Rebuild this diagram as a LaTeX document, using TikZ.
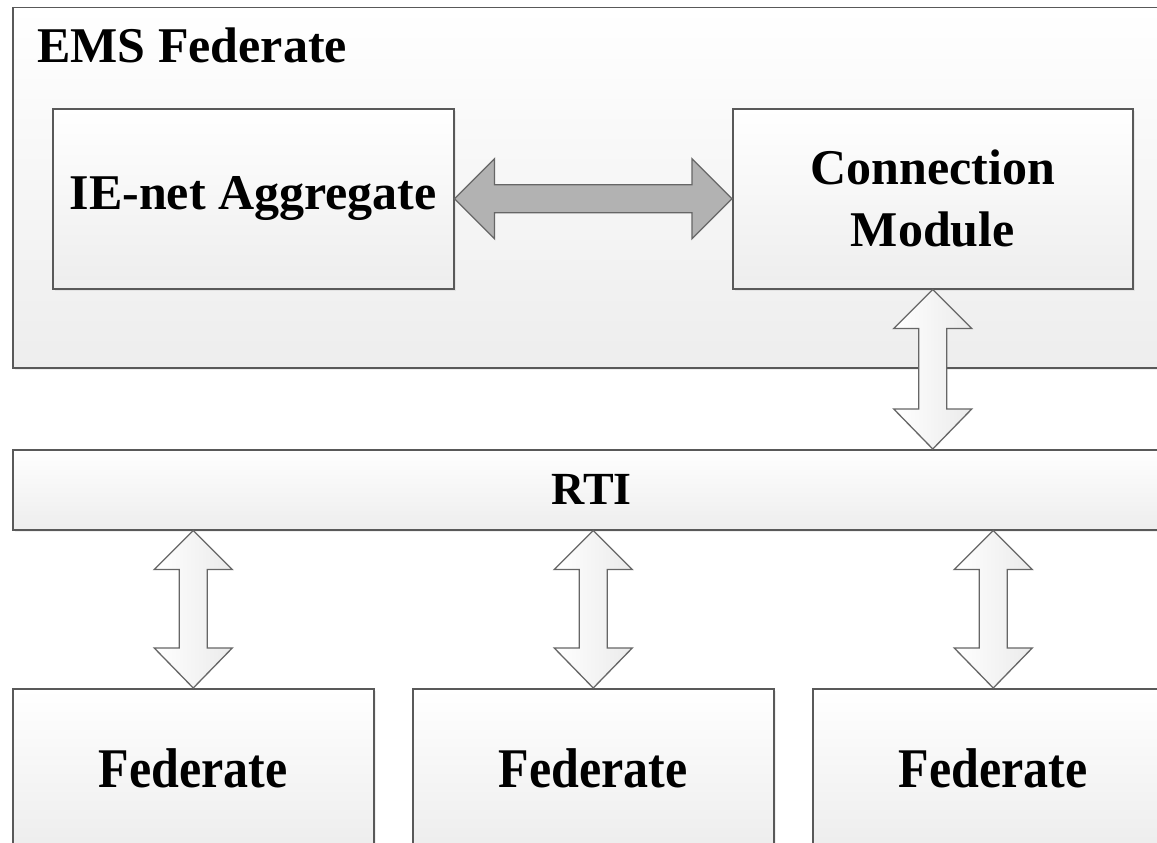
\documentclass[tikz,border=0pt]{standalone}
\usepackage{fontspec}
\setmainfont{Liberation Serif}
\usetikzlibrary{calc}
\usetikzlibrary{shadows}

\tikzset{
  box/.style={draw=black!65, line width=1.5pt, top color=white, bottom color=black!7,
    drop shadow={shadow xshift=2pt, shadow yshift=-2pt, opacity=0.12},
    inner sep=0pt, align=center, anchor=north west, font=\fontsize{50}{62}\selectfont\bfseries},
  boxlabel/.style={inner sep=0pt, font=\fontsize{50}{62}\selectfont\bfseries},
  hollowarrow/.style={draw=black!60, line width=1.3pt, line join=miter, left color=white, right color=black!8},
  greyarrow/.style={draw=black!60, line width=1.3pt, line join=miter, fill=black!30}
}

\begin{document}
\begin{tikzpicture}[x=1pt,y=-1pt]
\useasboundingbox (0,0) rectangle (1157,843);
\clip (0,0) rectangle (1157,843);
\fill[white] (0,0) rectangle (1157,843);

%EMS federate
\node[box, minimum width=1168pt, minimum height=360pt] (ems) at (12,7) {};
\node[boxlabel, anchor=base west] (emslabel) at (37,63) {EMS Federate};
\node[box, minimum width=401pt, minimum height=180pt] (ie) at (52,108) {IE-net Aggregate};
\node[box, minimum width=400pt, minimum height=180pt] (conn) at (732,108) {Connection\\Module};

%RTI
\node[box, minimum width=1158pt, minimum height=80pt, font=\fontsize{46}{56}\selectfont\bfseries] (rti) at (12,449) {RTI};

%federates
\node[box, minimum width=361pt, minimum height=160pt] (fed1) at (12,688) {\scalebox{1}[1.12]{Federate}};
\node[box, minimum width=361pt, minimum height=160pt] (fed2) at (412,688) {\scalebox{1}[1.12]{Federate}};
\node[box, minimum width=361pt, minimum height=160pt] (fed3) at (812,688) {\scalebox{1}[1.12]{Federate}};

%IE-net <-> connection
\draw[greyarrow] (ie.east) -- ++(40,-40) -- ++(0,26) -- ($(conn.west)+(-40,-14)$) -- ++(0,-26)
  -- (conn.west) -- ++(-40,40) -- ++(0,-26) -- ($(ie.east)+(40,14)$) -- ++(0,26) -- cycle;

%connection <-> RTI
\draw[hollowarrow] (conn.south) -- ++(39,39) -- ++(-25,0) -- ($(rti.north -| conn.south)+(14,-40)$) -- ++(25,0)
  -- (rti.north -| conn.south) -- ++(-39,-40) -- ++(25,0) -- ($(conn.south)+(-14,39)$) -- ++(-25,0) -- cycle;

%RTI <-> federates
\draw[hollowarrow] (rti.south -| fed1.north) -- ++(39,39) -- ++(-25,0) -- ($(fed1.north)+(14,-40)$) -- ++(25,0)
  -- (fed1.north) -- ++(-39,-40) -- ++(25,0) -- ($(rti.south -| fed1.north)+(-14,39)$) -- ++(-25,0) -- cycle;
\draw[hollowarrow] (rti.south -| fed2.north) -- ++(39,39) -- ++(-25,0) -- ($(fed2.north)+(14,-40)$) -- ++(25,0)
  -- (fed2.north) -- ++(-39,-40) -- ++(25,0) -- ($(rti.south -| fed2.north)+(-14,39)$) -- ++(-25,0) -- cycle;
\draw[hollowarrow] (rti.south -| fed3.north) -- ++(39,39) -- ++(-25,0) -- ($(fed3.north)+(14,-40)$) -- ++(25,0)
  -- (fed3.north) -- ++(-39,-40) -- ++(25,0) -- ($(rti.south -| fed3.north)+(-14,39)$) -- ++(-25,0) -- cycle;

\end{tikzpicture}
\end{document}
